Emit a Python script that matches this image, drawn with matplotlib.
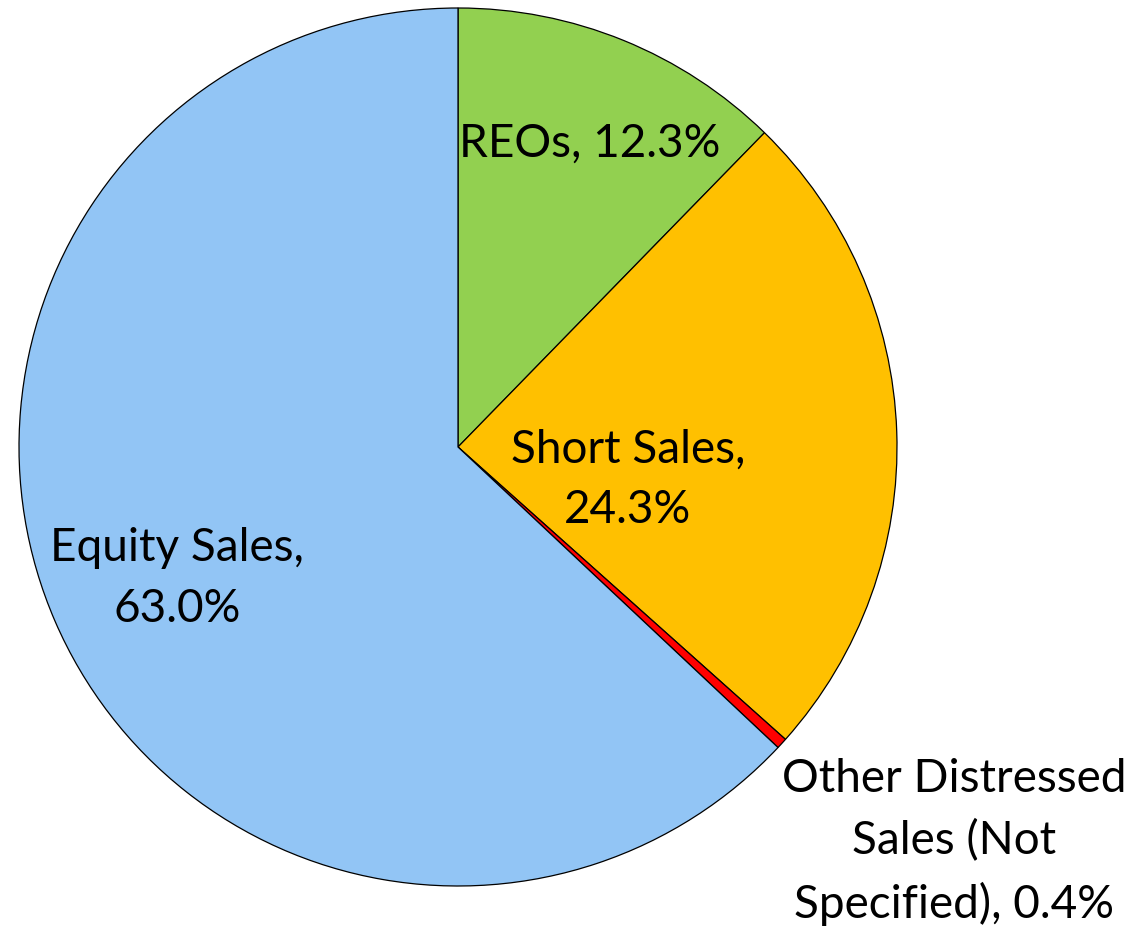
import matplotlib
matplotlib.use('Agg')
from matplotlib import pyplot as plt

labels = ['REOs', 'Short Sales', 'Other Distressed Sales (Not Specified)', 'Equity Sales']
shares = [12.3, 24.3, 0.4, 63.0]
colors = ['#92D050', '#FFC000', '#FF0000', '#92C5F5']
label_texts = ['REOs, 12.3%', 'Short Sales,\n24.3%',
               'Other Distressed\nSales (Not\nSpecified), 0.4%', 'Equity Sales,\n63.0%']

plt.rcParams['font.family'] = ['Lato', 'DejaVu Sans']

fig = plt.figure(figsize=(11.31, 9.27), dpi=100)
ax = fig.add_axes([19/1131, 41/927, 878/1131, 878/927])
ax.pie(shares, colors=colors, startangle=90, counterclock=False, radius=1,
       wedgeprops=dict(edgecolor='black', linewidth=0.9))
ax.set_xlim(-1, 1)
ax.set_ylim(-1, 1)
ax.set_aspect('equal')
ax.axis('off')

# label positions (data units, pie radius = 1)
label_pos = [(0.30, 0.69), (0.387, -0.075), (1.13, -0.90), (-0.64, -0.30)]
for txt, (x, y) in zip(label_texts, label_pos):
    ax.text(x, y, txt, ha='center', va='center', fontsize=33,
            linespacing=1.55, clip_on=False)

fig.savefig('out.png', dpi=100)
